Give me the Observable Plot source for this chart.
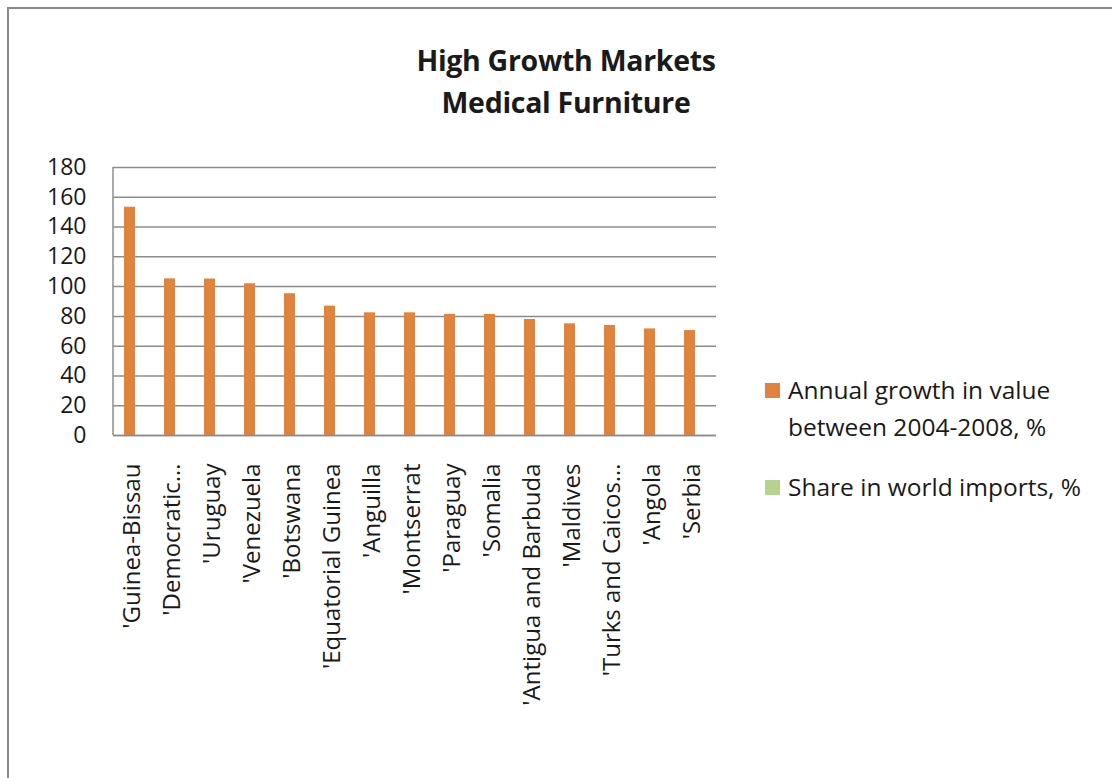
<!DOCTYPE html>
<html>
<head>
<meta charset="utf-8">
<script src="https://cdn.jsdelivr.net/npm/d3@7"></script>
<script src="https://cdn.jsdelivr.net/npm/@observablehq/plot@0.6"></script>
<style>
  html, body { margin: 0; padding: 0; background: #fff; }
  body { width: 1112px; height: 778px; position: relative; overflow: hidden; font-family: "Open Sans", sans-serif; color: #1a1a1a; }
  #frame { position: absolute; left: 7px; top: 7px; width: 1200px; height: 900px; border-left: 2px solid #8a8a8a; border-top: 2px solid #8a8a8a; }
  #title { position: absolute; left: 0; top: 39px; width: 1132px; text-align: center; font-weight: 700; font-size: 28.5px; line-height: 42px; letter-spacing: -0.3px; }
  #chart { position: absolute; left: 0; top: 150px; }
  #legend { position: absolute; left: 765px; top: 371px; font-size: 24.5px; line-height: 37px; }
  .item { position: relative; padding-left: 23px; }
  .sw { position: absolute; left: 0; width: 15px; height: 15px; top: 12px; }
</style>
</head>
<body>
<div id="frame"></div>
<div id="title">High Growth Markets<br>Medical Furniture</div>
<div id="chart"></div>
<div id="legend"></div>
<script>
const countries = ["'Guinea-Bissau", "'Democratic…", "'Uruguay", "'Venezuela", "'Botswana", "'Equatorial Guinea", "'Anguilla", "'Montserrat", "'Paraguay", "'Somalia", "'Antigua and Barbuda", "'Maldives", "'Turks and Caicos…", "'Angola", "'Serbia"];
const growthValues = [153.3, 105.2, 105.1, 101.9, 95.2, 86.9, 82.4, 82.4, 81.4, 81.3, 77.9, 75.0, 73.9, 71.6, 70.5];
const shareValues = [0, 0, 0, 0, 0, 0, 0, 0, 0, 0, 0, 0, 0, 0, 0];
const yTicks = [0, 20, 40, 60, 80, 100, 120, 140, 160, 180];
const seriesNames = ["Annual growth in value between 2004-2008, %", "Share in world imports, %"];
const seriesColors = ["#E0833F", "#B5D28F"];

const data = countries.map((c, i) => ({country: c, growth: growthValues[i], share: shareValues[i]}));

const leftLine = (index, scales, values, dims) => {
  const g = d3.create("svg:line")
    .attr("x1", dims.marginLeft).attr("x2", dims.marginLeft)
    .attr("y1", scales.y(yTicks[yTicks.length - 1])).attr("y2", scales.y(0))
    .attr("stroke", "#8c8c8c").attr("stroke-width", 1.5);
  return g.node();
};

const chart = Plot.plot({
  width: 730,
  height: 620,
  marginLeft: 113,
  marginRight: 14,
  marginTop: 17,
  marginBottom: 335,
  style: {fontFamily: "Open Sans", color: "#1a1a1a", background: "transparent"},
  x: {domain: countries, padding: 0, label: null},
  y: {domain: [0, 180], label: null},
  marks: [
    Plot.gridY(yTicks, {stroke: "#8c8c8c", strokeOpacity: 1, strokeWidth: 1.5}),
    Plot.barY(data, {x: "country", y: "growth", fill: seriesColors[0], insetLeft: 9, insetRight: 20}),
    Plot.barY(data, {x: "country", y: "share", fill: seriesColors[1], insetLeft: 20, insetRight: 9}),
    Plot.ruleY([0], {stroke: "#8c8c8c", strokeWidth: 1.5}),
    leftLine,
    Plot.axisY({ticks: yTicks, tickSize: 0, tickPadding: 27, fontSize: 23, label: null}),
    Plot.axisX({tickSize: 0, tickRotate: -90, tickPadding: 28, fontSize: 24, dx: -3, label: null})
  ]
});
document.getElementById("chart").appendChild(chart);

const legend = document.getElementById("legend");
const legendLines = [["Annual growth in value", "between 2004-2008, %"], ["Share in world imports, %"]];
legendLines.forEach((lines, i) => {
  const item = document.createElement("div");
  item.className = "item";
  item.style.marginBottom = i === 0 ? "23px" : "0";
  const sw = document.createElement("div");
  sw.className = "sw";
  sw.style.background = seriesColors[i];
  item.appendChild(sw);
  item.innerHTML += lines.join("<br>");
  legend.appendChild(item);
});
</script>
</body>
</html>
